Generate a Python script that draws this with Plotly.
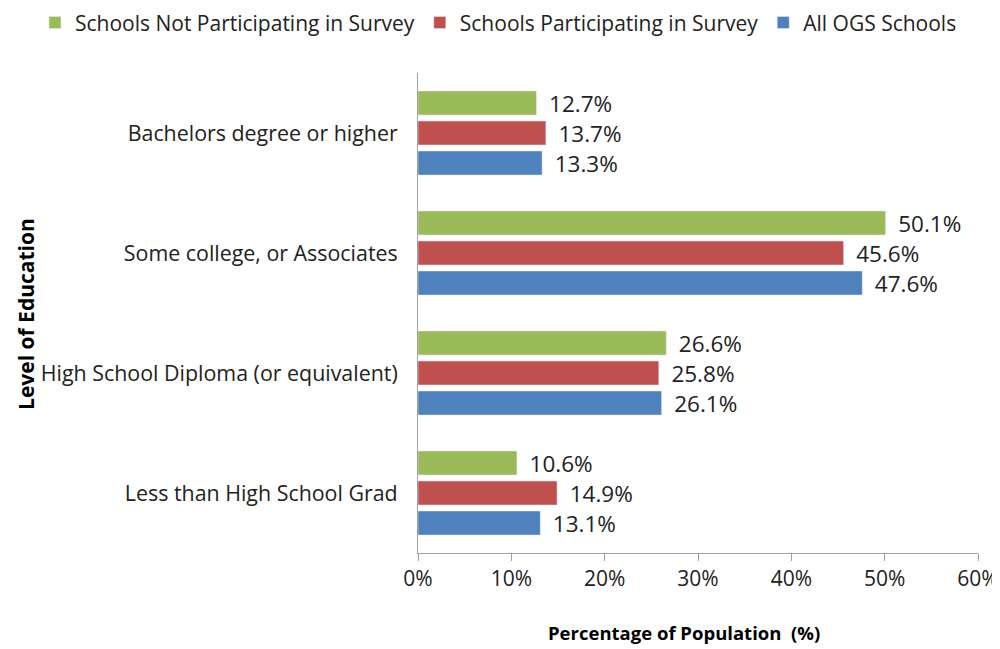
import plotly.graph_objects as go

# categories listed bottom -> top (plotly draws the first category at the bottom)
categories = [
    "Less than High School Grad",
    "High School Diploma (or equivalent)",
    "Some college, or Associates",
    "Bachelors degree or higher",
]

all_ogs = [13.1, 26.1, 47.6, 13.3]
participating = [14.9, 25.8, 45.6, 13.7]
not_participating = [10.6, 26.6, 50.1, 12.7]

series = [
    ("All OGS Schools", all_ogs, "#4F81BD"),
    ("Schools Participating in Survey", participating, "#C0504D"),
    ("Schools Not Participating in Survey", not_participating, "#9BBB59"),
]

FONT = "Open Sans, sans-serif"

fig = go.Figure()
for name, vals, color in series:
    fig.add_trace(go.Bar(
        y=categories,
        x=vals,
        name=name,
        orientation="h",
        marker=dict(color=color),
        text=["\u00a0\u2009%.1f%%" % v for v in vals],
        textposition="outside",
        constraintext="none",
        cliponaxis=False,
        textfont=dict(size=22.5, color="#222222", family=FONT),
    ))

# axis titles as annotations so they sit where the original has them
fig.add_annotation(
    text="<b>Level of Education</b>", textangle=-90,
    xref="paper", yref="paper", x=-0.70, y=0.498,
    xanchor="center", yanchor="middle", showarrow=False,
    font=dict(size=21, color="#000000", family=FONT),
)
fig.add_annotation(
    text="<b>Percentage of Population  (%)</b>",
    xref="paper", yref="paper", x=0.475, y=-0.165,
    xanchor="center", yanchor="middle", showarrow=False,
    font=dict(size=18.5, color="#000000", family=FONT),
)

fig.update_layout(
    width=1000,
    height=649,
    barmode="group",
    bargap=0.25,
    bargroupgap=0.2,
    plot_bgcolor="white",
    paper_bgcolor="white",
    margin=dict(l=410, r=30, t=65, b=104, autoexpand=False),
    font=dict(family=FONT, size=21, color="#222222"),
    legend=dict(
        orientation="h",
        traceorder="reversed",
        x=-0.684,
        xanchor="left",
        y=1.147,
        yanchor="top",
        font=dict(size=21, family=FONT),
        itemwidth=30,
    ),
    xaxis=dict(
        range=[0, 60],
        dtick=10,
        ticksuffix="%",
        automargin=False,
        showgrid=False,
        zeroline=False,
        showline=True,
        linecolor="#A0A0A0",
        ticks="outside",
        ticklen=7,
        tickcolor="#A0A0A0",
        tickfont=dict(size=21),
    ),
    yaxis=dict(
        automargin=False,
        showgrid=False,
        zeroline=False,
        showline=True,
        linecolor="#A0A0A0",
        ticks="",
        ticklabelstandoff=15,
        tickfont=dict(size=21.4),
    ),
)

fig.write_html("out.html")
